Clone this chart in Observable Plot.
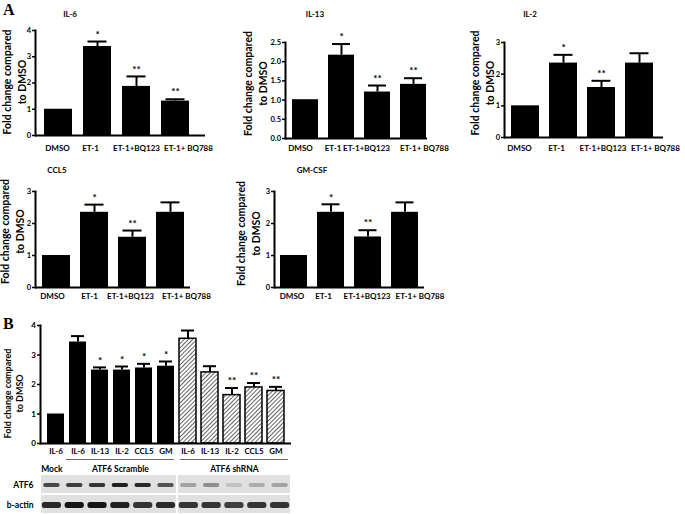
<!DOCTYPE html>
<html><head><meta charset="utf-8">
<script src="https://cdn.jsdelivr.net/npm/d3@7"></script>
<script src="https://cdn.jsdelivr.net/npm/@observablehq/plot@0.6"></script>
<style>
body{margin:0;background:#fff;}
#fig{position:relative;width:685px;height:514px;overflow:hidden;font-family:Lato,"Open Sans",sans-serif;color:#000;}
.panel{position:absolute;font-family:"Liberation Serif",serif;font-weight:bold;font-size:16px;line-height:1;}
.ttl{position:absolute;font-weight:bold;font-size:8px;line-height:1;transform:translate(-50%,-50%);white-space:nowrap;}
</style></head>
<body>
<svg width="0" height="0" style="position:absolute">
<defs><pattern id="hatch" patternUnits="userSpaceOnUse" width="3" height="3" patternTransform="rotate(45)">
<rect width="3" height="3" fill="#fff"/><line x1="0" y1="0" x2="0" y2="3" stroke="#222" stroke-width="1.4"/></pattern></defs></svg>
<div id="fig"></div>
<script>
// ---------- data ----------
const treatments = ["DMSO", "ET-1", "ET-1+BQ123", "ET-1+ BQ788"];
const yLabel = "Fold change compared\nto DMSO";

const il6Values = [1.0, 3.39, 1.87, 1.31];
const il6Upper = [null, 3.58, 2.25, 1.38];
const il6Sig = ["", "*", "**", "**"];

const il13Values = [1.01, 2.17, 1.21, 1.41];
const il13Upper = [null, 2.46, 1.38, 1.57];
const il13Sig = ["", "*", "**", "**"];

const il2Values = [1.0, 2.35, 1.58, 2.35];
const il2Upper = [null, 2.61, 1.79, 2.66];
const il2Sig = ["", "*", "**", ""];

const ccl5Values = [1.0, 2.35, 1.57, 2.35];
const ccl5Upper = [null, 2.59, 1.78, 2.66];
const ccl5Sig = ["", "*", "**", ""];

const gmcsfValues = [1.0, 2.35, 1.58, 2.35];
const gmcsfUpper = [null, 2.6, 1.79, 2.66];
const gmcsfSig = ["", "*", "**", ""];

const ticks4 = [0, 1, 2, 3, 4];
const ticks25 = [0, 0.5, 1, 1.5, 2, 2.5];
const ticks3 = [0, 1, 2, 3];

const bLabels = ["IL-6", "IL-6", "IL-13", "IL-2", "CCL5", "GM", "IL-6", "IL-13", "IL-2", "CCL5", "GM"];
const bHatched = [false, false, false, false, false, false, true, true, true, true, true];
const bValues = [1.0, 3.44, 2.49, 2.49, 2.56, 2.62, 3.55, 2.41, 1.64, 1.9, 1.78];
const bUpper = [null, 3.64, 2.58, 2.61, 2.7, 2.78, 3.83, 2.62, 1.88, 2.05, 1.92];
const bSig = ["", "", "*", "*", "*", "*", "", "", "**", "**", "**"];

const blotRows = ["ATF6", "b-actin"];
const blotGroups = [
  {name: "Mock", first: 0, last: 0},
  {name: "ATF6 Scramble", first: 1, last: 5},
  {name: "ATF6 shRNA", first: 6, last: 10}
];
const blotPanels = [{first: 0, last: 5}, {first: 6, last: 10}];
const atf6Intensity = [0.75, 0.8, 0.85, 0.95, 0.9, 0.7, 0.3, 0.4, 0.15, 0.25, 0.3];
const actinIntensity = [0.9, 1.0, 1.0, 0.95, 0.85, 0.9, 0.85, 0.85, 0.8, 0.85, 0.85];

// ---------- layout ----------
const FONT = "Lato, 'Open Sans', sans-serif";
const fig = document.getElementById("fig");

function place(el, left, top) {
  el.style.position = "absolute";
  el.style.left = left + "px";
  el.style.top = top + "px";
  fig.appendChild(el);
}
function addDiv(cls, text, left, top) {
  const d = document.createElement("div");
  d.className = cls;
  d.textContent = text;
  d.style.left = left + "px";
  d.style.top = top + "px";
  fig.appendChild(d);
}

function makeBarChart(c) {
  const n = c.labels.length;
  const data = d3.range(n).map(i => ({i, v: c.values[i], u: c.upper[i], s: c.sig[i], h: c.hatched ? c.hatched[i] : false}));
  const errs = data.filter(d => d.u != null);
  const starred = data.filter(d => d.s);
  const labelMarks = d3.range(n).map(i =>
    Plot.text([i], {x: d => d, text: d => c.labels[d], frameAnchor: "bottom", lineAnchor: "top",
      dy: c.xpad, dx: c.labelDx ? c.labelDx[i] : 0, fontSize: c.xfs, fontWeight: "bold"}));
  return Plot.plot({
    width: c.width, height: c.height,
    marginLeft: c.ml, marginRight: c.mr, marginTop: c.mt, marginBottom: c.mb,
    style: {background: "transparent", color: "#000", fontFamily: FONT, fontWeight: "bold", fontSize: "8px", overflow: "visible"},
    x: {type: "band", domain: d3.range(n), paddingInner: c.pi, paddingOuter: c.po, align: c.align, axis: null, label: null},
    y: {domain: [0, c.ymax], axis: null, label: null},
    marks: [
      Plot.barY(data.filter(d => !d.h), {x: "i", y: "v", fill: "#000"}),
      Plot.barY(data.filter(d => d.h), {x: "i", y: "v", fill: "url(#hatch)", stroke: "#000", strokeWidth: 1.5}),
      Plot.ruleX(errs, {x: "i", y1: "v", y2: "u", stroke: "#000", strokeWidth: 2}),
      Plot.tickY(errs, {x: "i", y: "u", stroke: "#000", strokeWidth: 2, inset: c.capInset}),
      Plot.text(starred, {x: "i", y: "u", text: "s", dy: c.starDy, fontSize: c.starSize, fontWeight: "bold"}),
      Plot.ruleY([0], {stroke: "#000", strokeWidth: 2}),
      Plot.frame({anchor: "left", stroke: "#000", strokeWidth: 2}),
      Plot.axisY({ticks: c.ticks, tickFormat: d3.format(c.fmt), tickSize: 3, tickPadding: 1.5, strokeWidth: 1.5, fontSize: c.yfs, fontWeight: "bold", label: null}),
      ...labelMarks,
      Plot.text([yLabel], {text: d => d, frameAnchor: "left", textAnchor: "middle", lineAnchor: "middle", rotate: -90, dx: c.ldx, dy: c.ldy, fontSize: c.lfs, lineHeight: c.lh, fontWeight: "bold"})
    ]
  });
}

const base = {labels: treatments, capInset: 4.5, starDy: -7, starSize: 10, yfs: 7.5, xfs: 8, lfs: 10.5, lh: 1.45, fmt: "d"};
const chartsA = [
  {...base, title: "IL-6", values: il6Values, upper: il6Upper, sig: il6Sig, ymax: 4, ticks: ticks4,
   left: 0, top: 20, width: 215, height: 140, ml: 35, mr: 10, mt: 10, mb: 25, pi: 0.27, po: 0.29, align: 0.35,
   xpad: 10, labelDx: [-1, -7, 0, 13], ldx: -22, ldy: -1, tx: 70, ty: 14},
  {...base, title: "IL-13", values: il13Values, upper: il13Upper, sig: il13Sig, ymax: 2.5, ticks: ticks25, fmt: ".1f",
   left: 235, top: 30, width: 200, height: 133, ml: 50, mr: 8, mt: 12, mb: 25, pi: 0.28, po: 0.11, align: 0.875,
   xpad: 7, labelDx: [-5, -8.5, -11, 11], ldx: -31, ldy: -7, tx: 315, ty: 14, capInset: 4},
  {...base, title: "IL-2", values: il2Values, upper: il2Upper, sig: il2Sig, ymax: 3, ticks: ticks3,
   left: 460, top: 30, width: 213, height: 132, ml: 44, mr: 10, mt: 12, mb: 25, pi: 0.27, po: 0.18, align: 0.43,
   xpad: 8, labelDx: [-6, -7, 1.5, 16], ldx: -23, ldy: -7, tx: 530, ty: 14},
  {...base, title: "CCL5", values: ccl5Values, upper: ccl5Upper, sig: ccl5Sig, ymax: 3, ticks: ticks3,
   left: 0, top: 180, width: 200, height: 132, ml: 35, mr: 10, mt: 11, mb: 25, pi: 0.26, po: 0.16, align: 0.58,
   xpad: 6, labelDx: [-4, -5, -2, 16], ldx: -24, ldy: -8, tx: 57, ty: 170},
  {...base, title: "GM-CSF", values: gmcsfValues, upper: gmcsfUpper, sig: gmcsfSig, ymax: 3, ticks: ticks3,
   left: 230, top: 180, width: 204, height: 132, ml: 44, mr: 10, mt: 11, mb: 25, pi: 0.28, po: 0.16, align: 0.5,
   xpad: 6, labelDx: [-2, -7.5, -1, 15], ldx: -27, ldy: -6, tx: 312, ty: 170}
];

for (const c of chartsA) {
  place(makeBarChart(c), c.left, c.top);
  addDiv("ttl", c.title, c.tx, c.ty);
}

const chartB = {labels: bLabels, values: bValues, upper: bUpper, sig: bSig, hatched: bHatched, ymax: 4, ticks: ticks4, fmt: "d",
  left: 0, top: 315, width: 300, height: 148, ml: 40, mr: 9, mt: 10, mb: 20, pi: 0.25, po: 0.125, align: 0.5,
  capInset: 2, starDy: -7, starSize: 10, yfs: 8, xfs: 8, xpad: 5, lfs: 9, lh: 1.35, ldx: -27, ldy: 9};
place(makeBarChart(chartB), chartB.left, chartB.top);

addDiv("panel", "A", 3, 2);
addDiv("panel", "B", 3, 316);

// ---------- western blot ----------
const lanes = d3.range(bLabels.length);
const atf6Bands = lanes.map(i => ({lane: i, row: "ATF6", a: atf6Intensity[i]}));
const actinBands = lanes.map(i => ({lane: i, row: "b-actin", a: actinIntensity[i]}));
const panelCells = blotRows.flatMap(r => blotPanels.map(p => ({...p, row: r})));
const blot = Plot.plot({
  width: 300, height: 59, marginLeft: 40, marginRight: 9, marginTop: 0, marginBottom: 0,
  style: {background: "transparent", color: "#000", fontFamily: FONT, fontWeight: "bold", fontSize: "8.5px", overflow: "visible"},
  x: {type: "linear", domain: [-0.5, lanes.length - 0.5], axis: null, label: null},
  y: {type: "band", domain: ["hdr", ...blotRows], paddingInner: 0.12, paddingOuter: 0, axis: null, label: null},
  marks: [
    Plot.barX(panelCells, {x1: d => d.first - 0.5, x2: d => d.last + 0.5, y: "row", fill: "#e0e0e0", insetLeft: 1, insetRight: 1, insetTop: -1, insetBottom: 1}),
    Plot.barX(atf6Bands, {x1: d => d.lane - 0.36, x2: d => d.lane + 0.36, y: "row", fill: "#151515", fillOpacity: "a", insetTop: 7, insetBottom: 7, rx: 2}),
    Plot.barX(actinBands, {x1: d => d.lane - 0.42, x2: d => d.lane + 0.42, y: "row", fill: "#151515", fillOpacity: "a", insetTop: 6, insetBottom: 6, rx: 2.5}),
    Plot.ruleY(blotGroups.filter(g => g.last > g.first), {x1: d => d.first - 0.5, x2: d => d.last + 0.5, y: () => "hdr", dy: -6, insetLeft: 3, insetRight: 3, stroke: "#666", strokeWidth: 1}),
    Plot.text(blotGroups, {x: d => (d.first + d.last) / 2, y: () => "hdr", text: "name", dy: 4, fontWeight: "bold", fontSize: 8.5}),
    Plot.axisY({tickSize: 0, tickPadding: 7, tickFormat: d => d === "hdr" ? "" : d, fontWeight: "bold", fontSize: 8.5, label: null})
  ]
});
place(blot, 0, 455);
</script>
</body></html>
